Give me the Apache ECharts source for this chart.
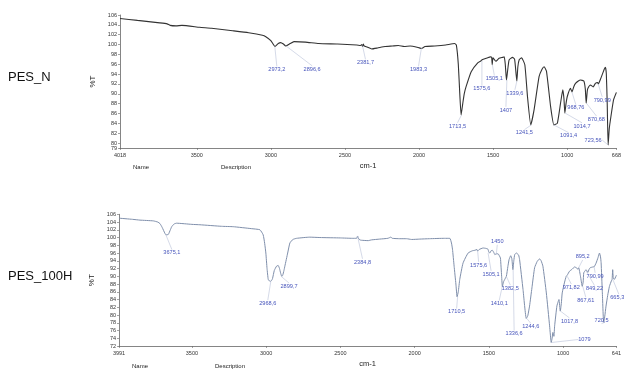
<!DOCTYPE html>
<html>
<head>
<meta charset="utf-8">
<script src="https://cdn.jsdelivr.net/npm/echarts@6/dist/echarts.min.js"></script>
<style>
  html, body { margin: 0; padding: 0; background: #fff; }
  #chart { width: 624px; height: 369px; }
</style>
</head>
<body>
<div id="chart"></div>
<script>
// PES_N spectrum (wavenumber cm-1, %T)
const wnN = [4018, 3900, 3750, 3700, 3680, 3640, 3600, 3481, 3400, 3258, 3150, 3057, 3034, 3000, 2972,
    2950, 2934, 2915, 2900, 2870, 2844, 2766, 2677, 2550, 2420, 2395, 2386, 2381, 2376, 2370, 2350,
    2319, 2280, 2229, 2180, 2140, 2100, 2060, 2006, 1983, 1960, 1894, 1820, 1760, 1748, 1735, 1725,
    1716, 1705, 1695, 1682, 1648, 1604, 1581, 1575, 1537, 1519, 1510, 1506, 1501, 1481, 1460, 1436,
    1425, 1418, 1410, 1403, 1392, 1369, 1355, 1345, 1340, 1333, 1324, 1308, 1286, 1268, 1246, 1224,
    1190, 1170, 1156, 1140, 1112, 1090, 1067, 1045, 1030, 1022, 1016, 1008, 1000, 978, 968, 955, 944,
    925, 911, 888, 878, 872, 865, 861, 843, 825, 810, 795, 790, 775, 765, 750, 742, 736, 730, 724,
    716, 705, 687, 668];
const tN = [105.3, 104.9, 104.4, 104.2, 103.9, 103.8, 103.9, 103.5, 103.3, 102.8, 102.4, 101.9, 101.6, 100.8, 99.6,
    100.2, 100.4, 100.1, 99.7, 100.2, 100.6, 100.5, 100.2, 100.1, 99.9, 99.8, 100.0, 99.6, 100.1, 99.7, 99.5,
    99.1, 99.3, 99.6, 99.7, 99.8, 99.6, 99.7, 99.4, 99.2, 99.6, 99.7, 99.9, 100.2, 99.9, 96.0, 90.0,
    85.7, 88.0, 90.0, 91.5, 94.5, 96.3, 96.7, 96.9, 97.3, 97.5, 97.4, 95.9, 97.3, 96.6, 97.2, 97.4,
    97.5, 96.0, 92.8, 94.5, 96.9, 97.4, 97.0, 94.0, 92.6, 95.5, 96.9, 97.3, 95.9, 89.4, 83.7, 86.7,
    93.5, 95.0, 95.5, 94.6, 87.4, 83.7, 84.0, 88.1, 90.8, 89.0, 86.1, 88.0, 89.4, 91.1, 90.4, 91.5, 92.1,
    92.6, 92.8, 92.6, 91.0, 88.1, 90.5, 91.1, 91.8, 91.4, 92.1, 92.3, 92.0, 93.0, 93.8, 95.0, 95.4, 94.0, 88.0, 79.6,
    83.0, 85.4, 88.8, 90.3];
const peaksN = [2973.2, 2896.6, 2381.7, 1983.3, 1713.5, 1575.6, 1505.1, 1407, 1339.6, 1241.5, 1091.4,
    968.76, 1014.7, 870.68, 790.99, 723.56];
const peakTN = [99.6, 99.7, 99.8, 99.4, 85.7, 96.7, 95.9, 92.8, 92.6, 83.7, 83.7, 90.4, 86.1, 88.1, 92.0, 79.6];
// label offsets from the peak (px)
const offsN = [[2, 23], [26, 23], [3, 17], [-3, 22], [-4, 11], [0, 28], [2, 14], [-1, 30], [-2, 12],
    [-7, 8], [15, 11], [4, 16], [17, 13], [10, 16], [4, 16], [-15, -5]];

// PES_100H spectrum
const wnH = [3991, 3900, 3850, 3760, 3730, 3715, 3700, 3682, 3675, 3659, 3645, 3636, 3620, 3603, 3500,
    3446, 3300, 3222, 3100, 3042, 3020, 3010, 3002, 2994, 2986, 2978, 2970, 2962, 2957, 2945, 2930,
    2919, 2910, 2903, 2895, 2889, 2880, 2874, 2855, 2840, 2820, 2795, 2706, 2638, 2500, 2420, 2391,
    2384, 2380, 2370, 2358, 2313, 2290, 2235, 2180, 2160, 2150, 2100, 2055, 2020, 1965, 1900, 1800,
    1763, 1752, 1745, 1734, 1722, 1714, 1706, 1696, 1674, 1640, 1610, 1595, 1580, 1575, 1566, 1539,
    1520, 1506, 1500, 1494, 1485, 1476, 1465, 1460, 1450, 1438, 1428, 1422, 1414, 1409, 1402, 1393,
    1382, 1372, 1364, 1353, 1345, 1338, 1332, 1326, 1315, 1300, 1293, 1270, 1248, 1238, 1226, 1210,
    1192, 1175, 1158, 1148, 1136, 1113, 1091, 1080, 1074, 1069, 1062, 1057, 1042, 1033, 1028, 1019,
    1012, 1006, 990, 979, 972, 957, 940, 923, 910, 901, 895, 883, 871, 865, 861, 850, 845, 834, 825,
    818, 800, 790, 778, 765, 755, 748, 744, 736, 727, 720, 711, 700, 688, 675, 670, 666, 662, 655, 644, 641];
const tH = [105.0, 104.7, 104.5, 104.3, 104.0, 103.6, 102.6, 101.1, 100.7, 100.8, 102.0, 102.8, 103.5, 103.7, 103.4,
    103.3, 102.9, 102.8, 102.3, 102.0, 100.7, 98.5, 96.0, 92.0, 89.2, 88.8, 88.7, 89.0, 89.4, 91.5, 92.6,
    92.8, 92.0, 90.9, 90.0, 90.2, 91.5, 92.6, 96.0, 98.6, 99.5, 99.8, 100.1, 100.0, 99.9, 99.8, 99.8,
    100.4, 99.9, 99.4, 99.3, 99.2, 99.4, 99.6, 99.8, 100.1, 99.8, 99.7, 99.7, 99.5, 99.6, 99.7, 99.8,
    99.8, 98.6, 97.0, 92.6, 88.0, 84.7, 86.0, 89.2, 93.4, 96.0, 96.6, 96.7, 96.9, 96.5, 96.9, 97.3,
    97.2, 97.0, 96.2, 96.0, 96.6, 96.7, 96.0, 95.6, 95.8, 95.8, 95.2, 94.7, 90.0, 87.3, 88.5, 89.2,
    90.0, 92.5, 94.3, 95.3, 94.5, 91.7, 94.0, 95.6, 96.0, 95.5, 94.3, 86.6, 79.1, 79.8, 82.3, 87.0,
    92.2, 93.8, 94.5, 94.0, 92.6, 85.7, 77.2, 72.9, 74.0, 75.5, 74.5, 77.2, 82.3, 83.5, 84.0, 81.0,
    83.0, 85.7, 88.5, 90.0, 90.3, 91.3, 91.8, 92.4, 92.2, 91.8, 92.2, 90.0, 87.4, 88.5, 90.9, 91.5, 91.7, 91.0, 91.8,
    92.2, 92.4, 92.5, 93.4, 94.8, 96.0, 95.0, 93.5, 86.0, 78.1, 79.5, 82.3, 85.0, 87.4, 88.8, 89.2, 91.7, 89.5, 89.2, 90.0, 90.3];
const peaksH = [3675.1, 2968.6, 2899.7, 2384.8, 1710.5, 1575.6, 1450, 1505.1, 1410.1, 1382.5, 1336.6,
    1244.6, 1079, 1017.8, 971.82, 895.2, 867.61, 849.22, 790.99, 720.5, 665.32];
const peakTH = [100.7, 88.7, 90.0, 100.4, 84.7, 96.5, 95.6, 96.0, 87.3, 90.0, 91.7, 79.1, 72.9, 81.0, 90.0,
    92.2, 87.4, 91.7, 92.4, 78.1, 89.2];
const offsH = [[6, 18], [-3, 22], [8, 10], [5, 26], [-1, 15], [1, 14], [1, -13], [3, 21], [-3, 17], [4, 12],
    [1, 64], [4, 8], [33, -3], [9, 10], [4, 11], [4, -11], [3, 14], [9, 19], [1, 9], [-3, -2], [6, 18]];

// axis ticks
const yMinN = 79;
const yTicksN = [80, 82, 84, 86, 88, 90, 92, 94, 96, 98, 100, 102, 104, 106];
const yTicksH = [72, 74, 76, 78, 80, 82, 84, 86, 88, 90, 92, 94, 96, 98, 100, 102, 104, 106];
const xTicksN = [4018, 3500, 3000, 2500, 2000, 1500, 1000, 668];
const xTicksH = [3991, 3500, 3000, 2500, 2000, 1500, 1000, 641];

const FONT = 'Liberation Sans, Arial, sans-serif';

const xAxisOpt = (idx, ticks) => ({
    type: 'value',
    gridIndex: idx,
    inverse: true,
    min: ticks[ticks.length - 1],
    max: ticks[0],
    name: 'cm-1',
    nameLocation: 'middle',
    nameGap: 14,
    nameTextStyle: { fontSize: 7.5, color: '#222', fontFamily: FONT },
    axisLine: { lineStyle: { color: '#666', width: 0.8 } },
    axisTick: { show: true, length: 2, customValues: ticks, lineStyle: { color: '#666', width: 0.6 } },
    axisLabel: {
        customValues: ticks, fontSize: 5.5, color: '#333', margin: 4, fontFamily: FONT,
        showMinLabel: true, showMaxLabel: true, hideOverlap: false,
        formatter: v => String(v)
    },
    splitLine: { show: false }
});

const yAxisOpt = (idx, min, ticks, extra) => Object.assign({
    type: 'value',
    gridIndex: idx,
    position: 'left',
    min: min,
    max: 106,
    name: '%T',
    nameLocation: 'middle',
    nameRotate: 90,
    nameGap: 22,
    nameTextStyle: { fontSize: 8, color: '#222', fontFamily: FONT },
    axisLine: { show: true, lineStyle: { color: '#666', width: 0.8 } },
    axisTick: { show: true, length: 2, customValues: ticks, lineStyle: { color: '#666', width: 0.6 } },
    axisLabel: {
        customValues: ticks, fontSize: 5.5, color: '#333', margin: 3, fontFamily: FONT,
        showMinLabel: true, showMaxLabel: true, hideOverlap: false,
        formatter: v => String(v)
    },
    splitLine: { show: false }
}, extra || {});

const peakLabels = (peaks, temps, offsets, idx) => ({
    type: 'custom',
    xAxisIndex: idx,
    yAxisIndex: idx,
    clip: false,
    silent: true,
    z: 5,
    data: peaks.map((w, i) => [w, temps[i]]),
    renderItem: function(params, api) {
        const p = api.coord([api.value(0), api.value(1)]);
        const off = offsets[params.dataIndex];
        const text = String(peaks[params.dataIndex]).replace('.', ',');
        const lx = p[0] + off[0];
        const ly = p[1] + off[1];
        let ex = lx, ey = ly;
        if (Math.abs(off[0]) > 2 * Math.abs(off[1])) {
            ex = lx - Math.sign(off[0]) * text.length * 1.5;
        } else {
            ey = ly - Math.sign(off[1]) * 3.2;
        }
        return {
            type: 'group',
            children: [
                { type: 'line', shape: { x1: p[0], y1: p[1], x2: ex, y2: ey },
                  style: { stroke: '#b9c1d9', lineWidth: 0.6 } },
                { type: 'text', x: lx, y: ly,
                  style: { text: text, fill: '#4654bb', fontSize: 5.6, fontFamily: FONT,
                           align: 'center', verticalAlign: 'middle' } }
            ]
        };
    }
});

const chart = echarts.init(document.getElementById('chart'));

chart.setOption({
    animation: false,
    backgroundColor: '#fff',
    grid: [
        { left: 120, right: 4.5, top: 15, height: 133 },
        { left: 119, right: 7.3, top: 214.3, height: 132.4 }
    ],
    xAxis: [xAxisOpt(0, xTicksN), xAxisOpt(1, xTicksH)],
    yAxis: [
        yAxisOpt(0, yMinN, yTicksN),
        yAxisOpt(1, yTicksH[0], yTicksH),
        // separate axis only for the crowded bottom label "79"
        yAxisOpt(0, yMinN, [yMinN], { name: '', axisLine: { show: false } })
    ],
    series: [
        {
            name: 'PES_N',
            type: 'line',
            xAxisIndex: 0,
            yAxisIndex: 0,
            showSymbol: false,
            smooth: 0.15,
            lineStyle: { color: '#333', width: 1.1 },
            data: wnN.map((w, i) => [w, tN[i]])
        },
        {
            name: 'PES_100H',
            type: 'line',
            xAxisIndex: 1,
            yAxisIndex: 1,
            showSymbol: false,
            smooth: 0.15,
            lineStyle: { color: '#7f8fab', width: 1 },
            data: wnH.map((w, i) => [w, tH[i]])
        },
        peakLabels(peaksN, peakTN, offsN, 0),
        peakLabels(peaksH, peakTH, offsH, 1)
    ],
    graphic: [
        { type: 'text', left: 8, top: 71, style: { text: 'PES_N', fontSize: 13, fill: '#111', fontFamily: FONT } },
        { type: 'text', left: 8, top: 270, style: { text: 'PES_100H', fontSize: 13, fill: '#111', fontFamily: FONT } },
        { type: 'text', left: 133, top: 164, style: { text: 'Name', fontSize: 6, fill: '#222', fontFamily: FONT } },
        { type: 'text', left: 221, top: 164, style: { text: 'Description', fontSize: 6, fill: '#222', fontFamily: FONT } },
        { type: 'text', left: 132, top: 363, style: { text: 'Name', fontSize: 6, fill: '#222', fontFamily: FONT } },
        { type: 'text', left: 215, top: 363, style: { text: 'Description', fontSize: 6, fill: '#222', fontFamily: FONT } }
    ]
});
</script>
</body>
</html>
